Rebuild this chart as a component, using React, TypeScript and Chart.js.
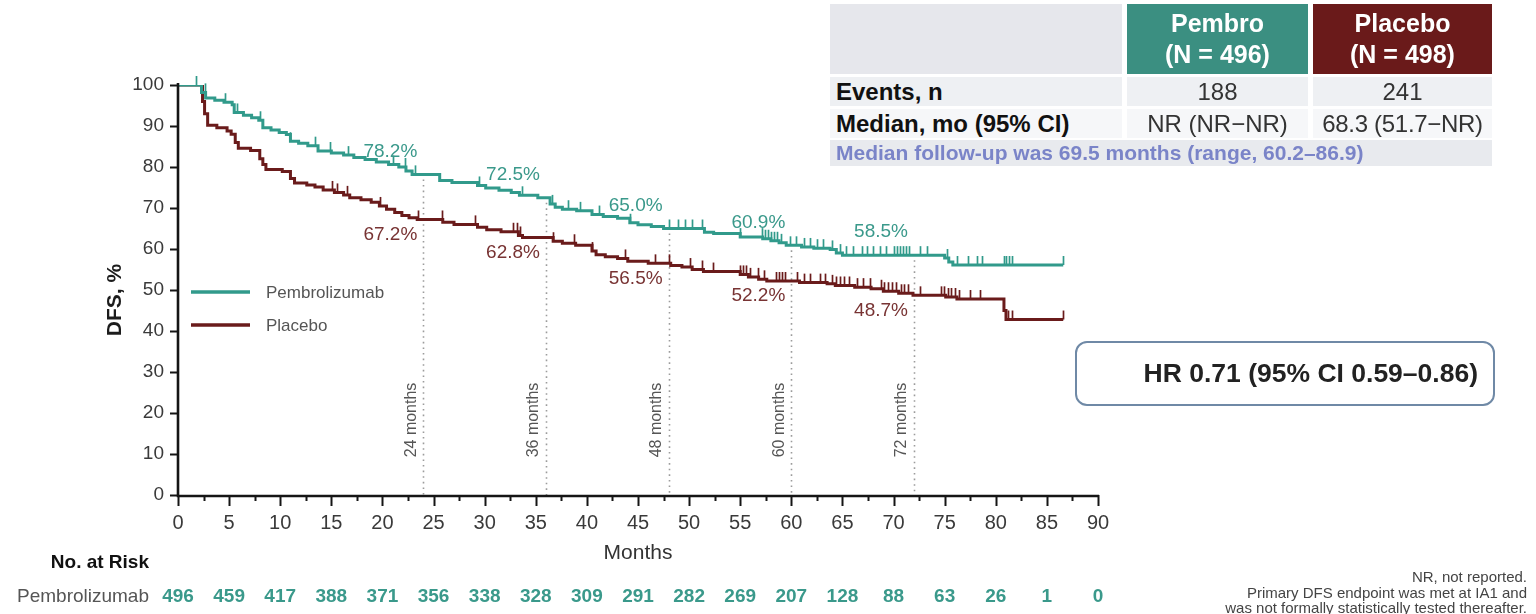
import React, { useEffect, useRef } from 'react';
import { Chart, registerables } from 'chart.js';

Chart.register(...registerables);

const TEAL = '#319a8b';
const MAROON = '#6a1b1b';
const TEAL_TEXT = '#3a998b';
const MAROON_TEXT = '#783333';
const FONT = '"Liberation Sans", Arial, Helvetica, sans-serif';

// Kaplan-Meier steps: month of each drop and DFS (%) after it
const pembroMonths = [
  0, 2.3, 2.7, 3.6, 4.5, 5.3, 5.5, 6.4, 7.2, 7.9, 8.3, 9.1, 9.9, 10.6, 11.0, 11.8, 12.7, 13.7,
  15.0, 16.2, 17.2, 18.3, 19.4, 20.6, 21.6, 22.3, 22.9, 25.6, 26.8, 29.3, 30.1, 31.4, 32.6,
  33.4, 35.2, 36.4, 36.9, 37.6, 39.0, 40.5, 41.6, 43.0, 44.2, 45.0, 46.3, 47.5, 51.5, 52.4,
  55.0, 57.2, 58.0, 58.8, 59.5, 61.0, 62.2, 63.8, 64.4, 65.0, 75.0, 75.4, 75.8, 86.6,
];
const pembroDFS = [
  100, 98.2, 96.8, 96.3, 95.8, 95.2, 93.3, 92.6, 92.0, 91.4, 89.6, 89.0, 88.4, 87.9, 86.3, 85.8,
  85.2, 83.9, 83.4, 82.9, 82.3, 81.8, 81.2, 80.6, 80.0, 79.0, 78.2, 76.7, 76.2, 75.5, 74.9, 74.3,
  73.8, 73.1, 72.5, 71.0, 70.2, 69.7, 69.3, 68.4, 67.9, 67.5, 66.4, 65.9, 65.5, 65.0, 64.1, 63.8,
  62.9, 62.5, 62.0, 61.5, 60.9, 60.5, 60.2, 59.9, 59.0, 58.5, 57.8, 56.8, 56.1, 56.1,
];

const placeboMonths = [
  0, 2.4, 2.6, 2.9, 3.8, 4.8, 5.2, 5.6, 5.9, 7.1, 8.0, 8.3, 8.6, 10.2, 11.0, 11.4, 12.6, 13.4,
  14.2, 15.3, 16.2, 16.8, 17.9, 18.9, 19.7, 20.4, 21.2, 21.9, 22.6, 23.4, 25.9, 27.0, 29.3,
  30.2, 31.6, 33.3, 33.7, 36.7, 37.6, 38.9, 40.5, 40.9, 41.8, 43.0, 44.0, 46.0, 48.2, 49.3,
  50.3, 51.4, 55.0, 55.8, 56.8, 57.6, 60.8, 63.5, 64.3, 66.2, 67.8, 69.0, 70.5, 71.9, 75.1,
  76.2, 80.8, 81.0, 86.6,
];
const placeboDFS = [
  100, 96.0, 93.0, 90.2, 89.6, 88.8, 88.0, 86.0, 84.6, 84.0, 82.0, 80.6, 79.4, 78.9, 77.2, 76.1,
  75.6, 75.1, 74.4, 73.8, 73.2, 72.5, 72.0, 71.4, 70.5, 69.7, 68.9, 68.2, 67.6, 67.2, 66.5, 66.0,
  65.3, 64.7, 64.2, 63.3, 62.8, 61.9, 61.4, 60.9, 59.5, 58.6, 58.1, 57.7, 57.0, 56.5, 56.0, 55.6,
  55.0, 54.5, 53.8, 53.2, 52.6, 52.2, 51.8, 51.5, 51.1, 50.7, 50.3, 49.7, 49.2, 48.7, 48.3, 47.8,
  45.0, 42.8, 42.8,
];

// Censoring times (months)
const pembroCensorMonths = [
  1.8, 2.6, 4.6, 5.8, 8.0, 11.0, 13.4, 14.9, 16.6, 21.0, 22.2, 23.2, 29.4, 33.7, 36.6, 38.2,
  39.3, 41.2, 44.2, 48.0, 48.9, 49.6, 50.3, 51.3, 55.0, 57.1, 57.4, 57.7, 58.0, 58.3, 58.6, 59.0,
  59.9, 60.5, 61.2, 61.8, 62.5, 63.1, 64.0, 64.8, 65.3, 66.0, 66.9, 67.4, 68.0, 68.7, 69.3, 70.0,
  70.3, 70.6, 70.9, 71.2, 71.5, 72.6, 73.3, 75.2, 76.2, 77.3, 78.2, 78.7, 80.8, 81.0, 81.3, 81.6,
  86.6,
];
const placeboCensorMonths = [
  15.1, 15.6, 16.5, 19.8, 23.5, 25.8, 29.1, 32.8, 33.2, 33.5, 36.7, 38.7, 40.5, 43.7, 46.7, 48.0,
  50.1, 51.3, 52.3, 55.0, 55.3, 55.6, 56.0, 56.7, 57.3, 58.5, 58.8, 59.1, 59.4, 60.6, 61.2, 61.8,
  62.8, 63.3, 64.0, 64.4, 64.8, 65.2, 65.6, 66.4, 67.0, 67.7, 68.8, 69.1, 69.5, 69.8, 70.2, 70.7,
  71.0, 71.4, 72.6, 74.6, 74.9, 75.3, 75.6, 76.0, 76.4, 77.5, 78.5, 81.2, 81.6, 86.6,
];

// Landmark estimates
const landmarkMonths = [24, 36, 48, 60, 72];
const pembroLandmarkDFS = [78.2, 72.5, 65.0, 60.9, 58.5];
const placeboLandmarkDFS = [67.2, 62.8, 56.5, 52.2, 48.7];

// Axes
const xTickMonths = [0, 5, 10, 15, 20, 25, 30, 35, 40, 45, 50, 55, 60, 65, 70, 75, 80, 85, 90];
const yTickValues = [0, 10, 20, 30, 40, 50, 60, 70, 80, 90, 100];

// Number at risk
const riskMonths = xTickMonths;
const pembroAtRisk = [496, 459, 417, 388, 371, 356, 338, 328, 309, 291, 282, 269, 207, 128, 88, 63, 26, 1, 0];

const stepValue = (months: number[], values: number[], t: number) => {
  let v = values[0];
  for (let i = 0; i < months.length; i++) {
    if (months[i] <= t) v = values[i];
    else break;
  }
  return v;
};

const kmDecor = {
  id: 'kmDecor',
  beforeDatasetsDraw(chart: any) {
    const { ctx, scales } = chart;
    const x = scales.x;
    const y = scales.y;
    ctx.save();
    ctx.strokeStyle = '#9c9c9c';
    ctx.lineWidth = 1.6;
    ctx.setLineDash([1.6, 4]);
    landmarkMonths.forEach((m) => {
      const px = Math.round(x.getPixelForValue(m)) + 0.5;
      const top = y.getPixelForValue(stepValue(pembroMonths, pembroDFS, m)) + 5;
      ctx.beginPath();
      ctx.moveTo(px, top);
      ctx.lineTo(px, y.getPixelForValue(0));
      ctx.stroke();
    });
    ctx.setLineDash([]);
    ctx.fillStyle = '#555';
    ctx.font = `16px ${FONT}`;
    ctx.textAlign = 'center';
    ctx.textBaseline = 'middle';
    landmarkMonths.forEach((m) => {
      const px = x.getPixelForValue(m);
      ctx.save();
      ctx.translate(px - 12, 420);
      ctx.rotate(-Math.PI / 2);
      ctx.fillText(`${m} months`, 0, 0);
      ctx.restore();
    });
    ctx.restore();
  },
  afterDatasetsDraw(chart: any) {
    const { ctx, scales } = chart;
    const x = scales.x;
    const y = scales.y;
    ctx.save();
    // censor marks
    const drawCensors = (times: number[], months: number[], values: number[], color: string) => {
      ctx.strokeStyle = color;
      ctx.lineWidth = 1.7;
      times.forEach((t) => {
        const px = Math.round(x.getPixelForValue(t)) + 0.5;
        const py = y.getPixelForValue(stepValue(months, values, t));
        ctx.beginPath();
        ctx.moveTo(px, py);
        ctx.lineTo(px, py - 9);
        ctx.stroke();
      });
    };
    drawCensors(pembroCensorMonths, pembroMonths, pembroDFS, TEAL);
    drawCensors(placeboCensorMonths, placeboMonths, placeboDFS, MAROON);

    // landmark percentages
    ctx.font = `19px ${FONT}`;
    ctx.textAlign = 'center';
    ctx.textBaseline = 'middle';
    landmarkMonths.forEach((m, i) => {
      const px = x.getPixelForValue(m) - 33;
      ctx.fillStyle = TEAL_TEXT;
      ctx.fillText(`${pembroLandmarkDFS[i].toFixed(1)}%`, px, y.getPixelForValue(pembroLandmarkDFS[i]) - 23);
      ctx.fillStyle = MAROON_TEXT;
      ctx.fillText(`${placeboLandmarkDFS[i].toFixed(1)}%`, px, y.getPixelForValue(placeboLandmarkDFS[i]) + 15);
    });
    ctx.restore();
  },
  afterDraw(chart: any) {
    const { ctx, scales } = chart;
    const x = scales.x;
    const y = scales.y;
    const x0 = x.getPixelForValue(0);
    const x90 = x.getPixelForValue(90);
    const y0 = y.getPixelForValue(0);
    const y100 = y.getPixelForValue(100);
    ctx.save();
    ctx.strokeStyle = '#151515';
    ctx.lineCap = 'butt';
    // axis lines
    ctx.lineWidth = 2.6;
    ctx.beginPath();
    ctx.moveTo(x0, y100 - 2);
    ctx.lineTo(x0, y0 + 1);
    ctx.lineTo(x90 + 1, y0 + 1);
    ctx.stroke();
    // y ticks
    ctx.lineWidth = 2;
    yTickValues.forEach((v) => {
      const py = Math.round(y.getPixelForValue(v)) + 0.5;
      ctx.beginPath();
      ctx.moveTo(x0 - 8, py);
      ctx.lineTo(x0, py);
      ctx.stroke();
    });
    // x ticks: long at labelled months, short halfway between
    xTickMonths.forEach((m, i) => {
      const px = Math.round(x.getPixelForValue(m)) + 0.5;
      ctx.beginPath();
      ctx.moveTo(px, y0);
      ctx.lineTo(px, y0 + 11);
      ctx.stroke();
      if (i < xTickMonths.length - 1) {
        const mid = (m + xTickMonths[i + 1]) / 2;
        const pm = Math.round(x.getPixelForValue(mid)) + 0.5;
        ctx.beginPath();
        ctx.moveTo(pm, y0);
        ctx.lineTo(pm, y0 + 6);
        ctx.stroke();
      }
    });

    // axis titles
    ctx.fillStyle = '#333';
    ctx.textAlign = 'center';
    ctx.textBaseline = 'middle';
    ctx.font = `21px ${FONT}`;
    ctx.fillText('Months', (x0 + x90) / 2, 553);
    ctx.save();
    ctx.translate(115, 300);
    ctx.rotate(-Math.PI / 2);
    ctx.fillStyle = '#1c1c1c';
    ctx.font = `bold 21px ${FONT}`;
    ctx.fillText('DFS, %', 0, 0);
    ctx.restore();

    // legend
    const legend = [
      { label: 'Pembrolizumab', color: TEAL, py: 292 },
      { label: 'Placebo', color: MAROON, py: 325 },
    ];
    ctx.textAlign = 'left';
    ctx.font = `17px ${FONT}`;
    legend.forEach((item) => {
      ctx.strokeStyle = item.color;
      ctx.lineWidth = 3.5;
      ctx.beginPath();
      ctx.moveTo(191, item.py);
      ctx.lineTo(250, item.py);
      ctx.stroke();
      ctx.fillStyle = '#555';
      ctx.fillText(item.label, 266, item.py + 1);
    });

    // number at risk
    ctx.fillStyle = '#111';
    ctx.font = `bold 19px ${FONT}`;
    ctx.textAlign = 'right';
    ctx.fillText('No. at Risk', 149, 563);
    ctx.fillStyle = '#555';
    ctx.font = `19px ${FONT}`;
    ctx.fillText('Pembrolizumab', 149, 597);
    ctx.textAlign = 'center';
    ctx.fillStyle = TEAL_TEXT;
    ctx.font = `bold 19px ${FONT}`;
    riskMonths.forEach((m, i) => {
      ctx.fillText(String(pembroAtRisk[i]), x.getPixelForValue(m), 597);
    });
    ctx.restore();
  },
};

const cellBase: React.CSSProperties = {
  position: 'absolute',
  display: 'flex',
  alignItems: 'center',
  boxSizing: 'border-box',
  fontFamily: FONT,
  whiteSpace: 'nowrap',
};

export default function App() {
  const canvasRef = useRef<HTMLCanvasElement | null>(null);

  useEffect(() => {
    const canvas = canvasRef.current;
    if (!canvas) return;
    const chart = new Chart(canvas, {
      type: 'line',
      data: {
        datasets: [
          {
            label: 'Pembrolizumab',
            data: pembroMonths.map((m, i) => ({ x: m, y: pembroDFS[i] })),
            stepped: 'before',
            borderColor: TEAL,
            borderWidth: 3,
            pointRadius: 0,
            fill: false,
          },
          {
            label: 'Placebo',
            data: placeboMonths.map((m, i) => ({ x: m, y: placeboDFS[i] })),
            stepped: 'before',
            borderColor: MAROON,
            borderWidth: 3,
            pointRadius: 0,
            fill: false,
          },
        ],
      },
      options: {
        animation: false,
        responsive: false,
        maintainAspectRatio: false,
        events: [],
        layout: { padding: { left: 118, right: 438, top: 85, bottom: 79 } },
        plugins: { legend: { display: false }, tooltip: { enabled: false } },
        scales: {
          x: {
            type: 'linear',
            min: 0,
            max: 90,
            afterBuildTicks: (s: any) => {
              s.ticks = xTickMonths.map((v) => ({ value: v }));
            },
            afterFit: (s: any) => {
              s.height = 40;
            },
            ticks: {
              autoSkip: false,
              maxRotation: 0,
              padding: 16,
              color: '#3a3a3a',
              font: { family: FONT, size: 20 },
            },
            grid: { display: false, drawTicks: false },
            border: { display: false },
          },
          y: {
            type: 'linear',
            min: 0,
            max: 100,
            afterBuildTicks: (s: any) => {
              s.ticks = yTickValues.map((v) => ({ value: v }));
            },
            afterFit: (s: any) => {
              s.width = 60;
            },
            ticks: {
              padding: 14,
              color: '#3a3a3a',
              font: { family: FONT, size: 19 },
            },
            grid: { display: false, drawTicks: false },
            border: { display: false },
          },
        },
      },
      plugins: [kmDecor],
    });
    return () => chart.destroy();
  }, []);

  return (
    <div
      style={{
        position: 'fixed',
        left: 0,
        top: 0,
        width: 1536,
        height: 614,
        background: '#ffffff',
        overflow: 'hidden',
      }}
    >
      <canvas ref={canvasRef} width={1536} height={614} style={{ position: 'absolute', left: 0, top: 0, width: 1536, height: 614 }} />

      {/* summary table */}
      <div style={{ ...cellBase, left: 830, top: 4, width: 292, height: 70, background: '#e6e7ec' }} />
      <div
        style={{
          ...cellBase,
          left: 1127,
          top: 4,
          width: 181,
          height: 70,
          background: '#3b8f81',
          color: '#fff',
          fontWeight: 'bold',
          fontSize: 25,
          lineHeight: '31px',
          flexDirection: 'column',
          justifyContent: 'center',
        }}
      >
        <div>Pembro</div>
        <div>(N = 496)</div>
      </div>
      <div
        style={{
          ...cellBase,
          left: 1313,
          top: 4,
          width: 179,
          height: 70,
          background: '#6a1a1a',
          color: '#fff',
          fontWeight: 'bold',
          fontSize: 25,
          lineHeight: '31px',
          flexDirection: 'column',
          justifyContent: 'center',
        }}
      >
        <div>Placebo</div>
        <div>(N = 498)</div>
      </div>

      <div style={{ ...cellBase, left: 830, top: 77, width: 292, height: 29, background: '#eef0f3', paddingLeft: 6, fontWeight: 'bold', fontSize: 24, color: '#111' }}>
        Events, n
      </div>
      <div style={{ ...cellBase, left: 1127, top: 77, width: 181, height: 29, background: '#eef0f3', justifyContent: 'center', fontSize: 24, color: '#333' }}>
        188
      </div>
      <div style={{ ...cellBase, left: 1313, top: 77, width: 179, height: 29, background: '#eef0f3', justifyContent: 'center', fontSize: 24, color: '#333' }}>
        241
      </div>

      <div style={{ ...cellBase, left: 830, top: 109, width: 292, height: 29, background: '#f6f7f9', paddingLeft: 6, fontWeight: 'bold', fontSize: 24, color: '#111' }}>
        Median, mo (95% CI)
      </div>
      <div style={{ ...cellBase, left: 1127, top: 109, width: 181, height: 29, background: '#f6f7f9', justifyContent: 'center', fontSize: 24, color: '#333' }}>
        NR (NR−NR)
      </div>
      <div style={{ ...cellBase, left: 1313, top: 109, width: 179, height: 29, background: '#f6f7f9', justifyContent: 'center', fontSize: 24, color: '#333', letterSpacing: -0.3 }}>
        68.3 (51.7−NR)
      </div>

      <div style={{ ...cellBase, left: 830, top: 140, width: 662, height: 26, background: '#e8eaee', paddingLeft: 6, fontWeight: 'bold', fontSize: 21, color: '#7a84c8' }}>
        Median follow-up was 69.5 months (range, 60.2–86.9)
      </div>

      {/* hazard ratio */}
      <div
        style={{
          ...cellBase,
          left: 1075,
          top: 341,
          width: 420,
          height: 65,
          border: '2px solid #6f89a6',
          borderRadius: 12,
          justifyContent: 'flex-end',
          paddingRight: 15,
          fontWeight: 'bold',
          fontSize: 26.5,
          color: '#222',
        }}
      >
        HR 0.71 (95% CI 0.59–0.86)
      </div>

      {/* footnotes */}
      <div
        style={{
          position: 'absolute',
          right: 9,
          top: 569,
          textAlign: 'right',
          fontFamily: FONT,
          fontSize: 15,
          lineHeight: '15.5px',
          color: '#444',
          whiteSpace: 'nowrap',
        }}
      >
        <div>NR, not reported.</div>
        <div>Primary DFS endpoint was met at IA1 and</div>
        <div>was not formally statistically tested thereafter.</div>
      </div>
    </div>
  );
}
